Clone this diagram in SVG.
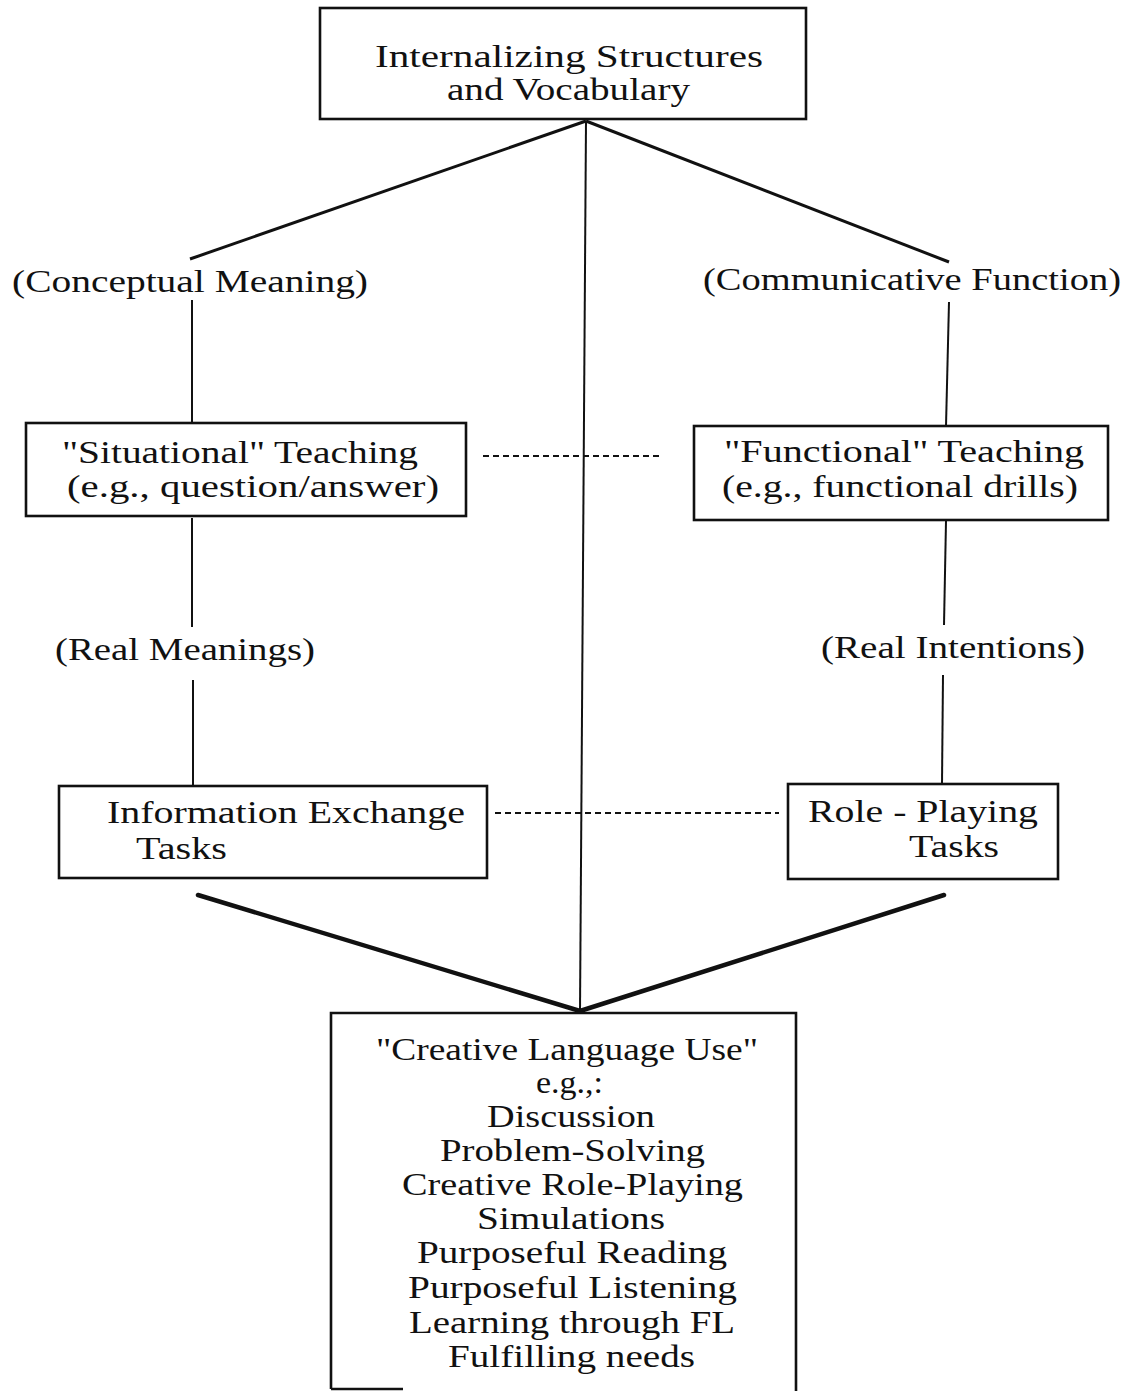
<svg xmlns="http://www.w3.org/2000/svg" width="1136" height="1391" viewBox="0 0 1136 1391">
<style>
.box{fill:none;stroke:#111;stroke-width:2.6}
.t{font-family:"Liberation Serif","Times New Roman",serif;font-size:31px;fill:#111}
.thin{stroke:#111;stroke-width:2;fill:none}
.diag{stroke:#111;stroke-width:3;fill:none}
.thick{stroke:#111;stroke-width:4.5;fill:none;stroke-linecap:round}
.dash{stroke:#111;stroke-width:2;stroke-dasharray:6 4;fill:none}
</style>
<rect width="1136" height="1391" fill="#fff"/>
<g id="connectors">
<line class="thin" x1="586" y1="121" x2="580" y2="1012"/>
<line class="diag" x1="586" y1="121" x2="190" y2="259"/>
<line class="diag" x1="586" y1="121" x2="949" y2="262"/>
<line class="thin" x1="192" y1="300" x2="192" y2="423"/>
<line class="thin" x1="949" y1="302" x2="946" y2="426"/>
<line class="thin" x1="192" y1="518" x2="192" y2="627"/>
<line class="thin" x1="946" y1="521" x2="944" y2="625"/>
<line class="thin" x1="193" y1="680" x2="193" y2="786"/>
<line class="thin" x1="943" y1="675" x2="942" y2="784"/>
<line class="dash" x1="483" y1="456" x2="660" y2="456"/>
<line class="dash" x1="495" y1="813" x2="779" y2="813"/>
<line class="thick" x1="198" y1="895" x2="580" y2="1011"/>
<line class="thick" x1="944" y1="895" x2="580" y2="1011"/>
</g>
<g id="n-internalizing">
<rect class="box" x="320" y="8" width="486" height="111"/>
<text class="t" x="375" y="67" textLength="388" lengthAdjust="spacingAndGlyphs">Internalizing Structures</text>
<text class="t" x="447" y="100" textLength="243" lengthAdjust="spacingAndGlyphs">and Vocabulary</text>
</g>
<g id="l-conceptual">
<text class="t" x="12" y="292" textLength="356" lengthAdjust="spacingAndGlyphs">(Conceptual Meaning)</text>
</g>
<g id="l-communicative">
<text class="t" x="703" y="290" textLength="418" lengthAdjust="spacingAndGlyphs">(Communicative Function)</text>
</g>
<g id="n-situational">
<rect class="box" x="26" y="423" width="440" height="93"/>
<text class="t" x="62" y="463" textLength="356" lengthAdjust="spacingAndGlyphs">"Situational" Teaching</text>
<text class="t" x="67" y="497" textLength="372" lengthAdjust="spacingAndGlyphs">(e.g., question/answer)</text>
</g>
<g id="n-functional">
<rect class="box" x="694" y="426" width="414" height="94"/>
<text class="t" x="724" y="462" textLength="360" lengthAdjust="spacingAndGlyphs">"Functional" Teaching</text>
<text class="t" x="722" y="497" textLength="356" lengthAdjust="spacingAndGlyphs">(e.g., functional drills)</text>
</g>
<g id="l-real-meanings">
<text class="t" x="55" y="660" textLength="260" lengthAdjust="spacingAndGlyphs">(Real Meanings)</text>
</g>
<g id="l-real-intentions">
<text class="t" x="821" y="658" textLength="264" lengthAdjust="spacingAndGlyphs">(Real Intentions)</text>
</g>
<g id="n-information">
<rect class="box" x="59" y="786" width="428" height="92"/>
<text class="t" x="107" y="823" textLength="358" lengthAdjust="spacingAndGlyphs">Information Exchange</text>
<text class="t" x="136" y="859" textLength="91" lengthAdjust="spacingAndGlyphs">Tasks</text>
</g>
<g id="n-roleplaying">
<rect class="box" x="788" y="784" width="270" height="95"/>
<text class="t" x="808" y="822" textLength="230" lengthAdjust="spacingAndGlyphs">Role - Playing</text>
<text class="t" x="909" y="857" textLength="90" lengthAdjust="spacingAndGlyphs">Tasks</text>
</g>
<g id="n-creative">
<path class="box" d="M331,1389 L331,1013 L796,1013 L796,1391 M331,1389 L403,1389"/>
<text class="t" x="376" y="1060" textLength="382" lengthAdjust="spacingAndGlyphs">"Creative Language Use"</text>
<text class="t" x="536" y="1093" textLength="67" lengthAdjust="spacingAndGlyphs">e.g.,:</text>
<text class="t" x="487" y="1127" textLength="168" lengthAdjust="spacingAndGlyphs">Discussion</text>
<text class="t" x="440" y="1161" textLength="265" lengthAdjust="spacingAndGlyphs">Problem-Solving</text>
<text class="t" x="402" y="1195" textLength="341" lengthAdjust="spacingAndGlyphs">Creative Role-Playing</text>
<text class="t" x="477" y="1229" textLength="188" lengthAdjust="spacingAndGlyphs">Simulations</text>
<text class="t" x="417" y="1263" textLength="310" lengthAdjust="spacingAndGlyphs">Purposeful Reading</text>
<text class="t" x="408" y="1298" textLength="329" lengthAdjust="spacingAndGlyphs">Purposeful Listening</text>
<text class="t" x="409" y="1333" textLength="326" lengthAdjust="spacingAndGlyphs">Learning through FL</text>
<text class="t" x="448" y="1367" textLength="247" lengthAdjust="spacingAndGlyphs">Fulfilling needs</text>
</g>
</svg>
